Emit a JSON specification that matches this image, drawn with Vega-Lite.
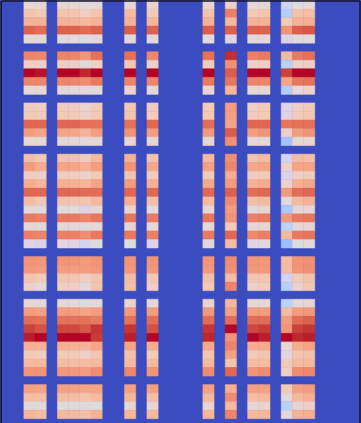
{"$schema":"https://vega.github.io/schema/vega-lite/v6.json","width":358,"height":422.5,"autosize":{"type":"none"},"padding":{"left":1.5,"top":0.5,"right":1.5,"bottom":0},"background":"#3b4cc0","config":{"view":{"fill":"#3b4cc0","stroke":null}},"mark":{"type":"rect","strokeWidth":0.5},"encoding":{"x":{"field":"c","type":"ordinal","scale":{"type":"band","domain":[0,1,2,3,4,5,6,7,8,9,10,11,12,13,14,15,16,17,18,19,20,21,22,23,24,25,26,27,28,29,30,31],"paddingInner":0,"paddingOuter":0},"axis":{"orient":"top","title":null,"labels":false,"ticks":false,"domain":true,"domainColor":"#14142a","domainWidth":1.5,"grid":true,"gridColor":"#14142a","gridWidth":1.5,"values":[31],"bandPosition":1}},"y":{"field":"r","type":"ordinal","scale":{"type":"band","domain":[0,1,2,3,4,5,6,7,8,9,10,11,12,13,14,15,16,17,18,19,20,21,22,23,24,25,26,27,28,29,30,31,32,33,34,35,36,37,38,39,40,41,42,43,44,45,46,47,48],"paddingInner":0,"paddingOuter":0.25,"align":0},"axis":{"title":null,"labels":false,"ticks":false,"domain":true,"domainColor":"#14142a","domainWidth":1.5,"offset":0.75,"grid":false}},"color":{"field":"v","type":"quantitative","legend":null,"scale":{"type":"linear","domain":[0,0.1,0.2,0.3,0.4,0.5,0.6,0.7,0.8,0.9,1],"range":["#3b4cc0","#5977e3","#7b9ff9","#9ebeff","#c0d4f5","#dddcdc","#f2cbb7","#f7ac8e","#ee8468","#d65244","#b40426"]}},"stroke":{"field":"v","type":"quantitative","legend":null,"scale":{"type":"linear","domain":[0,0.1,0.2,0.3,0.4,0.5,0.6,0.7,0.8,0.9,1],"range":["#3b4cc0","#5977e3","#7b9ff9","#9ebeff","#c0d4f5","#dddcdc","#f2cbb7","#f7ac8e","#ee8468","#d65244","#b40426"]}}},"data":{"values":[
{"r":0,"c":2,"v":0.53},{"r":0,"c":3,"v":0.53},{"r":0,"c":5,"v":0.53},{"r":0,"c":6,"v":0.53},{"r":0,"c":7,"v":0.51},{"r":0,"c":8,"v":0.52},{"r":0,"c":11,"v":0.53},{"r":0,"c":13,"v":0.55},{"r":0,"c":18,"v":0.54},{"r":0,"c":20,"v":0.56},{"r":0,"c":22,"v":0.52},{"r":0,"c":23,"v":0.52},{"r":0,"c":25,"v":0.42},{"r":0,"c":26,"v":0.5},{"r":0,"c":27,"v":0.52},
{"r":1,"c":2,"v":0.62},{"r":1,"c":3,"v":0.6},{"r":1,"c":5,"v":0.62},{"r":1,"c":6,"v":0.62},{"r":1,"c":7,"v":0.58},{"r":1,"c":8,"v":0.62},{"r":1,"c":11,"v":0.65},{"r":1,"c":13,"v":0.6},{"r":1,"c":18,"v":0.63},{"r":1,"c":20,"v":0.81},{"r":1,"c":22,"v":0.6},{"r":1,"c":23,"v":0.62},{"r":1,"c":25,"v":0.37},{"r":1,"c":26,"v":0.63},{"r":1,"c":27,"v":0.64},
{"r":2,"c":2,"v":0.68},{"r":2,"c":3,"v":0.68},{"r":2,"c":5,"v":0.68},{"r":2,"c":6,"v":0.68},{"r":2,"c":7,"v":0.66},{"r":2,"c":8,"v":0.68},{"r":2,"c":11,"v":0.68},{"r":2,"c":13,"v":0.67},{"r":2,"c":18,"v":0.68},{"r":2,"c":20,"v":0.66},{"r":2,"c":22,"v":0.68},{"r":2,"c":23,"v":0.68},{"r":2,"c":25,"v":0.6},{"r":2,"c":26,"v":0.68},{"r":2,"c":27,"v":0.69},
{"r":3,"c":2,"v":0.87},{"r":3,"c":3,"v":0.85},{"r":3,"c":5,"v":0.87},{"r":3,"c":6,"v":0.87},{"r":3,"c":7,"v":0.85},{"r":3,"c":8,"v":0.87},{"r":3,"c":11,"v":0.88},{"r":3,"c":13,"v":0.87},{"r":3,"c":18,"v":0.88},{"r":3,"c":20,"v":0.87},{"r":3,"c":22,"v":0.87},{"r":3,"c":23,"v":0.87},{"r":3,"c":25,"v":0.76},{"r":3,"c":26,"v":0.88},{"r":3,"c":27,"v":0.89},
{"r":4,"c":2,"v":0.53},{"r":4,"c":3,"v":0.52},{"r":4,"c":5,"v":0.52},{"r":4,"c":6,"v":0.52},{"r":4,"c":7,"v":0.5},{"r":4,"c":8,"v":0.52},{"r":4,"c":11,"v":0.52},{"r":4,"c":13,"v":0.52},{"r":4,"c":18,"v":0.51},{"r":4,"c":20,"v":0.45},{"r":4,"c":22,"v":0.52},{"r":4,"c":23,"v":0.52},{"r":4,"c":25,"v":0.44},{"r":4,"c":26,"v":0.49},{"r":4,"c":27,"v":0.51},
{"r":6,"c":2,"v":0.8},{"r":6,"c":3,"v":0.79},{"r":6,"c":5,"v":0.8},{"r":6,"c":6,"v":0.8},{"r":6,"c":7,"v":0.76},{"r":6,"c":8,"v":0.84},{"r":6,"c":11,"v":0.84},{"r":6,"c":13,"v":0.8},{"r":6,"c":18,"v":0.84},{"r":6,"c":20,"v":0.96},{"r":6,"c":22,"v":0.81},{"r":6,"c":23,"v":0.82},{"r":6,"c":25,"v":0.66},{"r":6,"c":26,"v":0.82},{"r":6,"c":27,"v":0.84},
{"r":7,"c":2,"v":0.58},{"r":7,"c":3,"v":0.56},{"r":7,"c":5,"v":0.57},{"r":7,"c":6,"v":0.57},{"r":7,"c":7,"v":0.52},{"r":7,"c":8,"v":0.58},{"r":7,"c":11,"v":0.61},{"r":7,"c":13,"v":0.56},{"r":7,"c":18,"v":0.6},{"r":7,"c":20,"v":0.77},{"r":7,"c":22,"v":0.56},{"r":7,"c":23,"v":0.58},{"r":7,"c":25,"v":0.38},{"r":7,"c":26,"v":0.56},{"r":7,"c":27,"v":0.58},
{"r":8,"c":2,"v":1},{"r":8,"c":3,"v":0.99},{"r":8,"c":5,"v":1},{"r":8,"c":6,"v":1},{"r":8,"c":7,"v":0.97},{"r":8,"c":8,"v":1},{"r":8,"c":11,"v":1},{"r":8,"c":13,"v":1},{"r":8,"c":18,"v":1},{"r":8,"c":20,"v":0.88},{"r":8,"c":22,"v":1},{"r":8,"c":23,"v":1},{"r":8,"c":25,"v":0.93},{"r":8,"c":26,"v":1},{"r":8,"c":27,"v":1},
{"r":9,"c":2,"v":0.8},{"r":9,"c":3,"v":0.8},{"r":9,"c":5,"v":0.8},{"r":9,"c":6,"v":0.8},{"r":9,"c":7,"v":0.78},{"r":9,"c":8,"v":0.82},{"r":9,"c":11,"v":0.8},{"r":9,"c":13,"v":0.8},{"r":9,"c":18,"v":0.82},{"r":9,"c":20,"v":0.83},{"r":9,"c":22,"v":0.8},{"r":9,"c":23,"v":0.8},{"r":9,"c":25,"v":0.72},{"r":9,"c":26,"v":0.83},{"r":9,"c":27,"v":0.84},
{"r":10,"c":2,"v":0.53},{"r":10,"c":3,"v":0.53},{"r":10,"c":5,"v":0.52},{"r":10,"c":6,"v":0.52},{"r":10,"c":7,"v":0.47},{"r":10,"c":8,"v":0.51},{"r":10,"c":11,"v":0.55},{"r":10,"c":13,"v":0.52},{"r":10,"c":18,"v":0.54},{"r":10,"c":20,"v":0.67},{"r":10,"c":22,"v":0.53},{"r":10,"c":23,"v":0.53},{"r":10,"c":25,"v":0.37},{"r":10,"c":26,"v":0.53},{"r":10,"c":27,"v":0.55},
{"r":12,"c":2,"v":0.59},{"r":12,"c":3,"v":0.58},{"r":12,"c":5,"v":0.59},{"r":12,"c":6,"v":0.59},{"r":12,"c":7,"v":0.55},{"r":12,"c":8,"v":0.6},{"r":12,"c":11,"v":0.61},{"r":12,"c":13,"v":0.59},{"r":12,"c":18,"v":0.6},{"r":12,"c":20,"v":0.74},{"r":12,"c":22,"v":0.58},{"r":12,"c":23,"v":0.6},{"r":12,"c":25,"v":0.44},{"r":12,"c":26,"v":0.58},{"r":12,"c":27,"v":0.6},
{"r":13,"c":2,"v":0.6},{"r":13,"c":3,"v":0.59},{"r":13,"c":5,"v":0.6},{"r":13,"c":6,"v":0.6},{"r":13,"c":7,"v":0.56},{"r":13,"c":8,"v":0.6},{"r":13,"c":11,"v":0.62},{"r":13,"c":13,"v":0.6},{"r":13,"c":18,"v":0.61},{"r":13,"c":20,"v":0.73},{"r":13,"c":22,"v":0.59},{"r":13,"c":23,"v":0.6},{"r":13,"c":25,"v":0.44},{"r":13,"c":26,"v":0.59},{"r":13,"c":27,"v":0.61},
{"r":14,"c":2,"v":0.86},{"r":14,"c":3,"v":0.86},{"r":14,"c":5,"v":0.86},{"r":14,"c":6,"v":0.86},{"r":14,"c":7,"v":0.84},{"r":14,"c":8,"v":0.84},{"r":14,"c":11,"v":0.84},{"r":14,"c":13,"v":0.86},{"r":14,"c":18,"v":0.85},{"r":14,"c":20,"v":0.72},{"r":14,"c":22,"v":0.86},{"r":14,"c":23,"v":0.86},{"r":14,"c":25,"v":0.83},{"r":14,"c":26,"v":0.84},{"r":14,"c":27,"v":0.84},
{"r":15,"c":2,"v":0.74},{"r":15,"c":3,"v":0.72},{"r":15,"c":5,"v":0.72},{"r":15,"c":6,"v":0.72},{"r":15,"c":7,"v":0.68},{"r":15,"c":8,"v":0.74},{"r":15,"c":11,"v":0.76},{"r":15,"c":13,"v":0.74},{"r":15,"c":18,"v":0.75},{"r":15,"c":20,"v":0.88},{"r":15,"c":22,"v":0.74},{"r":15,"c":23,"v":0.76},{"r":15,"c":25,"v":0.57},{"r":15,"c":26,"v":0.74},{"r":15,"c":27,"v":0.76},
{"r":16,"c":2,"v":0.53},{"r":16,"c":3,"v":0.53},{"r":16,"c":5,"v":0.52},{"r":16,"c":6,"v":0.52},{"r":16,"c":7,"v":0.47},{"r":16,"c":8,"v":0.52},{"r":16,"c":11,"v":0.54},{"r":16,"c":13,"v":0.52},{"r":16,"c":18,"v":0.53},{"r":16,"c":20,"v":0.77},{"r":16,"c":22,"v":0.52},{"r":16,"c":23,"v":0.53},{"r":16,"c":25,"v":0.32},{"r":16,"c":26,"v":0.53},{"r":16,"c":27,"v":0.54},
{"r":18,"c":2,"v":0.64},{"r":18,"c":3,"v":0.61},{"r":18,"c":5,"v":0.63},{"r":18,"c":6,"v":0.63},{"r":18,"c":7,"v":0.59},{"r":18,"c":8,"v":0.66},{"r":18,"c":11,"v":0.68},{"r":18,"c":13,"v":0.63},{"r":18,"c":18,"v":0.66},{"r":18,"c":20,"v":0.77},{"r":18,"c":22,"v":0.63},{"r":18,"c":23,"v":0.65},{"r":18,"c":25,"v":0.42},{"r":18,"c":26,"v":0.65},{"r":18,"c":27,"v":0.64},
{"r":19,"c":2,"v":0.74},{"r":19,"c":3,"v":0.7},{"r":19,"c":5,"v":0.72},{"r":19,"c":6,"v":0.72},{"r":19,"c":7,"v":0.69},{"r":19,"c":8,"v":0.74},{"r":19,"c":11,"v":0.76},{"r":19,"c":13,"v":0.71},{"r":19,"c":18,"v":0.73},{"r":19,"c":20,"v":0.79},{"r":19,"c":22,"v":0.71},{"r":19,"c":23,"v":0.72},{"r":19,"c":25,"v":0.56},{"r":19,"c":26,"v":0.72},{"r":19,"c":27,"v":0.72},
{"r":20,"c":2,"v":0.59},{"r":20,"c":3,"v":0.57},{"r":20,"c":5,"v":0.59},{"r":20,"c":6,"v":0.59},{"r":20,"c":7,"v":0.55},{"r":20,"c":8,"v":0.61},{"r":20,"c":11,"v":0.62},{"r":20,"c":13,"v":0.59},{"r":20,"c":18,"v":0.6},{"r":20,"c":20,"v":0.7},{"r":20,"c":22,"v":0.59},{"r":20,"c":23,"v":0.6},{"r":20,"c":25,"v":0.43},{"r":20,"c":26,"v":0.58},{"r":20,"c":27,"v":0.6},
{"r":21,"c":2,"v":0.7},{"r":21,"c":3,"v":0.67},{"r":21,"c":5,"v":0.69},{"r":21,"c":6,"v":0.69},{"r":21,"c":7,"v":0.67},{"r":21,"c":8,"v":0.72},{"r":21,"c":11,"v":0.74},{"r":21,"c":13,"v":0.69},{"r":21,"c":18,"v":0.71},{"r":21,"c":20,"v":0.74},{"r":21,"c":22,"v":0.69},{"r":21,"c":23,"v":0.7},{"r":21,"c":25,"v":0.55},{"r":21,"c":26,"v":0.69},{"r":21,"c":27,"v":0.71},
{"r":22,"c":2,"v":0.86},{"r":22,"c":3,"v":0.86},{"r":22,"c":5,"v":0.86},{"r":22,"c":6,"v":0.86},{"r":22,"c":7,"v":0.85},{"r":22,"c":8,"v":0.85},{"r":22,"c":11,"v":0.86},{"r":22,"c":13,"v":0.86},{"r":22,"c":18,"v":0.86},{"r":22,"c":20,"v":0.87},{"r":22,"c":22,"v":0.85},{"r":22,"c":23,"v":0.86},{"r":22,"c":25,"v":0.75},{"r":22,"c":26,"v":0.85},{"r":22,"c":27,"v":0.86},
{"r":23,"c":2,"v":0.65},{"r":23,"c":3,"v":0.61},{"r":23,"c":5,"v":0.63},{"r":23,"c":6,"v":0.63},{"r":23,"c":7,"v":0.62},{"r":23,"c":8,"v":0.66},{"r":23,"c":11,"v":0.69},{"r":23,"c":13,"v":0.64},{"r":23,"c":18,"v":0.66},{"r":23,"c":20,"v":0.78},{"r":23,"c":22,"v":0.64},{"r":23,"c":23,"v":0.66},{"r":23,"c":25,"v":0.47},{"r":23,"c":26,"v":0.66},{"r":23,"c":27,"v":0.68},
{"r":24,"c":2,"v":0.52},{"r":24,"c":3,"v":0.47},{"r":24,"c":5,"v":0.51},{"r":24,"c":6,"v":0.51},{"r":24,"c":7,"v":0.44},{"r":24,"c":8,"v":0.53},{"r":24,"c":11,"v":0.55},{"r":24,"c":13,"v":0.51},{"r":24,"c":18,"v":0.54},{"r":24,"c":20,"v":0.74},{"r":24,"c":22,"v":0.52},{"r":24,"c":23,"v":0.54},{"r":24,"c":25,"v":0.34},{"r":24,"c":26,"v":0.52},{"r":24,"c":27,"v":0.54},
{"r":25,"c":2,"v":0.82},{"r":25,"c":3,"v":0.81},{"r":25,"c":5,"v":0.82},{"r":25,"c":6,"v":0.82},{"r":25,"c":7,"v":0.8},{"r":25,"c":8,"v":0.83},{"r":25,"c":11,"v":0.83},{"r":25,"c":13,"v":0.82},{"r":25,"c":18,"v":0.83},{"r":25,"c":20,"v":0.76},{"r":25,"c":22,"v":0.81},{"r":25,"c":23,"v":0.82},{"r":25,"c":25,"v":0.75},{"r":25,"c":26,"v":0.82},{"r":25,"c":27,"v":0.83},
{"r":26,"c":2,"v":0.53},{"r":26,"c":3,"v":0.52},{"r":26,"c":5,"v":0.52},{"r":26,"c":6,"v":0.52},{"r":26,"c":7,"v":0.5},{"r":26,"c":8,"v":0.53},{"r":26,"c":11,"v":0.54},{"r":26,"c":13,"v":0.53},{"r":26,"c":18,"v":0.53},{"r":26,"c":20,"v":0.6},{"r":26,"c":22,"v":0.53},{"r":26,"c":23,"v":0.54},{"r":26,"c":25,"v":0.39},{"r":26,"c":26,"v":0.52},{"r":26,"c":27,"v":0.54},
{"r":27,"c":2,"v":0.81},{"r":27,"c":3,"v":0.8},{"r":27,"c":5,"v":0.81},{"r":27,"c":6,"v":0.81},{"r":27,"c":7,"v":0.78},{"r":27,"c":8,"v":0.82},{"r":27,"c":11,"v":0.82},{"r":27,"c":13,"v":0.81},{"r":27,"c":18,"v":0.82},{"r":27,"c":20,"v":0.86},{"r":27,"c":22,"v":0.79},{"r":27,"c":23,"v":0.81},{"r":27,"c":25,"v":0.66},{"r":27,"c":26,"v":0.82},{"r":27,"c":27,"v":0.83},
{"r":28,"c":2,"v":0.45},{"r":28,"c":3,"v":0.43},{"r":28,"c":5,"v":0.46},{"r":28,"c":6,"v":0.46},{"r":28,"c":7,"v":0.42},{"r":28,"c":8,"v":0.5},{"r":28,"c":11,"v":0.5},{"r":28,"c":13,"v":0.44},{"r":28,"c":18,"v":0.47},{"r":28,"c":20,"v":0.65},{"r":28,"c":22,"v":0.45},{"r":28,"c":23,"v":0.47},{"r":28,"c":25,"v":0.3},{"r":28,"c":26,"v":0.5},{"r":28,"c":27,"v":0.52},
{"r":30,"c":2,"v":0.76},{"r":30,"c":3,"v":0.75},{"r":30,"c":5,"v":0.76},{"r":30,"c":6,"v":0.76},{"r":30,"c":7,"v":0.74},{"r":30,"c":8,"v":0.76},{"r":30,"c":11,"v":0.76},{"r":30,"c":13,"v":0.76},{"r":30,"c":18,"v":0.76},{"r":30,"c":20,"v":0.78},{"r":30,"c":22,"v":0.75},{"r":30,"c":23,"v":0.75},{"r":30,"c":25,"v":0.65},{"r":30,"c":26,"v":0.76},{"r":30,"c":27,"v":0.77},
{"r":31,"c":2,"v":0.75},{"r":31,"c":3,"v":0.74},{"r":31,"c":5,"v":0.74},{"r":31,"c":6,"v":0.74},{"r":31,"c":7,"v":0.74},{"r":31,"c":8,"v":0.75},{"r":31,"c":11,"v":0.75},{"r":31,"c":13,"v":0.75},{"r":31,"c":18,"v":0.75},{"r":31,"c":20,"v":0.77},{"r":31,"c":22,"v":0.75},{"r":31,"c":23,"v":0.75},{"r":31,"c":25,"v":0.65},{"r":31,"c":26,"v":0.76},{"r":31,"c":27,"v":0.77},
{"r":32,"c":2,"v":0.62},{"r":32,"c":3,"v":0.6},{"r":32,"c":5,"v":0.62},{"r":32,"c":6,"v":0.62},{"r":32,"c":7,"v":0.58},{"r":32,"c":8,"v":0.62},{"r":32,"c":11,"v":0.65},{"r":32,"c":13,"v":0.61},{"r":32,"c":18,"v":0.64},{"r":32,"c":20,"v":0.65},{"r":32,"c":22,"v":0.62},{"r":32,"c":23,"v":0.62},{"r":32,"c":25,"v":0.42},{"r":32,"c":26,"v":0.6},{"r":32,"c":27,"v":0.63},
{"r":33,"c":2,"v":0.57},{"r":33,"c":3,"v":0.53},{"r":33,"c":5,"v":0.58},{"r":33,"c":6,"v":0.58},{"r":33,"c":7,"v":0.52},{"r":33,"c":8,"v":0.62},{"r":33,"c":11,"v":0.64},{"r":33,"c":13,"v":0.58},{"r":33,"c":18,"v":0.61},{"r":33,"c":20,"v":0.8},{"r":33,"c":22,"v":0.56},{"r":33,"c":23,"v":0.6},{"r":33,"c":25,"v":0.38},{"r":33,"c":26,"v":0.56},{"r":33,"c":27,"v":0.61},
{"r":35,"c":2,"v":0.53},{"r":35,"c":3,"v":0.52},{"r":35,"c":5,"v":0.53},{"r":35,"c":6,"v":0.53},{"r":35,"c":7,"v":0.5},{"r":35,"c":8,"v":0.52},{"r":35,"c":11,"v":0.55},{"r":35,"c":13,"v":0.53},{"r":35,"c":18,"v":0.55},{"r":35,"c":20,"v":0.67},{"r":35,"c":22,"v":0.53},{"r":35,"c":23,"v":0.53},{"r":35,"c":25,"v":0.39},{"r":35,"c":26,"v":0.52},{"r":35,"c":27,"v":0.54},
{"r":36,"c":2,"v":0.74},{"r":36,"c":3,"v":0.73},{"r":36,"c":5,"v":0.74},{"r":36,"c":6,"v":0.74},{"r":36,"c":7,"v":0.72},{"r":36,"c":8,"v":0.74},{"r":36,"c":11,"v":0.75},{"r":36,"c":13,"v":0.74},{"r":36,"c":18,"v":0.75},{"r":36,"c":20,"v":0.73},{"r":36,"c":22,"v":0.74},{"r":36,"c":23,"v":0.74},{"r":36,"c":25,"v":0.65},{"r":36,"c":26,"v":0.74},{"r":36,"c":27,"v":0.75},
{"r":37,"c":2,"v":0.85},{"r":37,"c":3,"v":0.84},{"r":37,"c":5,"v":0.84},{"r":37,"c":6,"v":0.84},{"r":37,"c":7,"v":0.84},{"r":37,"c":8,"v":0.82},{"r":37,"c":11,"v":0.84},{"r":37,"c":13,"v":0.85},{"r":37,"c":18,"v":0.85},{"r":37,"c":20,"v":0.85},{"r":37,"c":22,"v":0.85},{"r":37,"c":23,"v":0.85},{"r":37,"c":25,"v":0.74},{"r":37,"c":26,"v":0.85},{"r":37,"c":27,"v":0.87},
{"r":38,"c":2,"v":0.93},{"r":38,"c":3,"v":0.9},{"r":38,"c":5,"v":0.92},{"r":38,"c":6,"v":0.92},{"r":38,"c":7,"v":0.89},{"r":38,"c":8,"v":0.95},{"r":38,"c":11,"v":0.95},{"r":38,"c":13,"v":0.9},{"r":38,"c":18,"v":0.95},{"r":38,"c":20,"v":1},{"r":38,"c":22,"v":0.92},{"r":38,"c":23,"v":0.94},{"r":38,"c":25,"v":0.76},{"r":38,"c":26,"v":0.93},{"r":38,"c":27,"v":0.95},
{"r":39,"c":2,"v":0.98},{"r":39,"c":3,"v":1},{"r":39,"c":5,"v":1},{"r":39,"c":6,"v":1},{"r":39,"c":7,"v":1},{"r":39,"c":8,"v":0.94},{"r":39,"c":11,"v":0.98},{"r":39,"c":13,"v":1},{"r":39,"c":18,"v":0.97},{"r":39,"c":20,"v":0.76},{"r":39,"c":22,"v":1},{"r":39,"c":23,"v":0.98},{"r":39,"c":25,"v":1},{"r":39,"c":26,"v":0.97},{"r":39,"c":27,"v":0.98},
{"r":40,"c":2,"v":0.69},{"r":40,"c":3,"v":0.68},{"r":40,"c":5,"v":0.69},{"r":40,"c":6,"v":0.69},{"r":40,"c":7,"v":0.68},{"r":40,"c":8,"v":0.72},{"r":40,"c":11,"v":0.72},{"r":40,"c":13,"v":0.7},{"r":40,"c":18,"v":0.71},{"r":40,"c":20,"v":0.8},{"r":40,"c":22,"v":0.7},{"r":40,"c":23,"v":0.7},{"r":40,"c":25,"v":0.54},{"r":40,"c":26,"v":0.7},{"r":40,"c":27,"v":0.72},
{"r":41,"c":2,"v":0.6},{"r":41,"c":3,"v":0.58},{"r":41,"c":5,"v":0.6},{"r":41,"c":6,"v":0.6},{"r":41,"c":7,"v":0.56},{"r":41,"c":8,"v":0.62},{"r":41,"c":11,"v":0.63},{"r":41,"c":13,"v":0.6},{"r":41,"c":18,"v":0.62},{"r":41,"c":20,"v":0.73},{"r":41,"c":22,"v":0.6},{"r":41,"c":23,"v":0.62},{"r":41,"c":25,"v":0.45},{"r":41,"c":26,"v":0.62},{"r":41,"c":27,"v":0.63},
{"r":42,"c":2,"v":0.66},{"r":42,"c":3,"v":0.66},{"r":42,"c":5,"v":0.65},{"r":42,"c":6,"v":0.65},{"r":42,"c":7,"v":0.65},{"r":42,"c":8,"v":0.66},{"r":42,"c":11,"v":0.66},{"r":42,"c":13,"v":0.66},{"r":42,"c":18,"v":0.66},{"r":42,"c":20,"v":0.63},{"r":42,"c":22,"v":0.65},{"r":42,"c":23,"v":0.65},{"r":42,"c":25,"v":0.6},{"r":42,"c":26,"v":0.66},{"r":42,"c":27,"v":0.66},
{"r":43,"c":2,"v":0.76},{"r":43,"c":3,"v":0.76},{"r":43,"c":5,"v":0.75},{"r":43,"c":6,"v":0.75},{"r":43,"c":7,"v":0.74},{"r":43,"c":8,"v":0.78},{"r":43,"c":11,"v":0.79},{"r":43,"c":13,"v":0.76},{"r":43,"c":18,"v":0.78},{"r":43,"c":20,"v":0.86},{"r":43,"c":22,"v":0.76},{"r":43,"c":23,"v":0.78},{"r":43,"c":25,"v":0.58},{"r":43,"c":26,"v":0.78},{"r":43,"c":27,"v":0.79},
{"r":45,"c":2,"v":0.73},{"r":45,"c":3,"v":0.72},{"r":45,"c":5,"v":0.73},{"r":45,"c":6,"v":0.73},{"r":45,"c":7,"v":0.72},{"r":45,"c":8,"v":0.72},{"r":45,"c":11,"v":0.73},{"r":45,"c":13,"v":0.73},{"r":45,"c":18,"v":0.73},{"r":45,"c":20,"v":0.69},{"r":45,"c":22,"v":0.73},{"r":45,"c":23,"v":0.73},{"r":45,"c":25,"v":0.6},{"r":45,"c":26,"v":0.73},{"r":45,"c":27,"v":0.74},
{"r":46,"c":2,"v":0.65},{"r":46,"c":3,"v":0.64},{"r":46,"c":5,"v":0.65},{"r":46,"c":6,"v":0.65},{"r":46,"c":7,"v":0.62},{"r":46,"c":8,"v":0.66},{"r":46,"c":11,"v":0.67},{"r":46,"c":13,"v":0.64},{"r":46,"c":18,"v":0.66},{"r":46,"c":20,"v":0.78},{"r":46,"c":22,"v":0.65},{"r":46,"c":23,"v":0.66},{"r":46,"c":25,"v":0.48},{"r":46,"c":26,"v":0.66},{"r":46,"c":27,"v":0.69},
{"r":47,"c":2,"v":0.52},{"r":47,"c":3,"v":0.51},{"r":47,"c":5,"v":0.51},{"r":47,"c":6,"v":0.51},{"r":47,"c":7,"v":0.48},{"r":47,"c":8,"v":0.51},{"r":47,"c":11,"v":0.54},{"r":47,"c":13,"v":0.54},{"r":47,"c":18,"v":0.55},{"r":47,"c":20,"v":0.66},{"r":47,"c":22,"v":0.53},{"r":47,"c":23,"v":0.55},{"r":47,"c":25,"v":0.38},{"r":47,"c":26,"v":0.55},{"r":47,"c":27,"v":0.57},
{"r":48,"c":2,"v":0.67},{"r":48,"c":3,"v":0.65},{"r":48,"c":5,"v":0.66},{"r":48,"c":6,"v":0.66},{"r":48,"c":7,"v":0.64},{"r":48,"c":8,"v":0.68},{"r":48,"c":11,"v":0.67},{"r":48,"c":13,"v":0.66},{"r":48,"c":18,"v":0.67},{"r":48,"c":20,"v":0.8},{"r":48,"c":22,"v":0.66},{"r":48,"c":23,"v":0.67},{"r":48,"c":25,"v":0.47},{"r":48,"c":26,"v":0.68},{"r":48,"c":27,"v":0.69}
]}}
